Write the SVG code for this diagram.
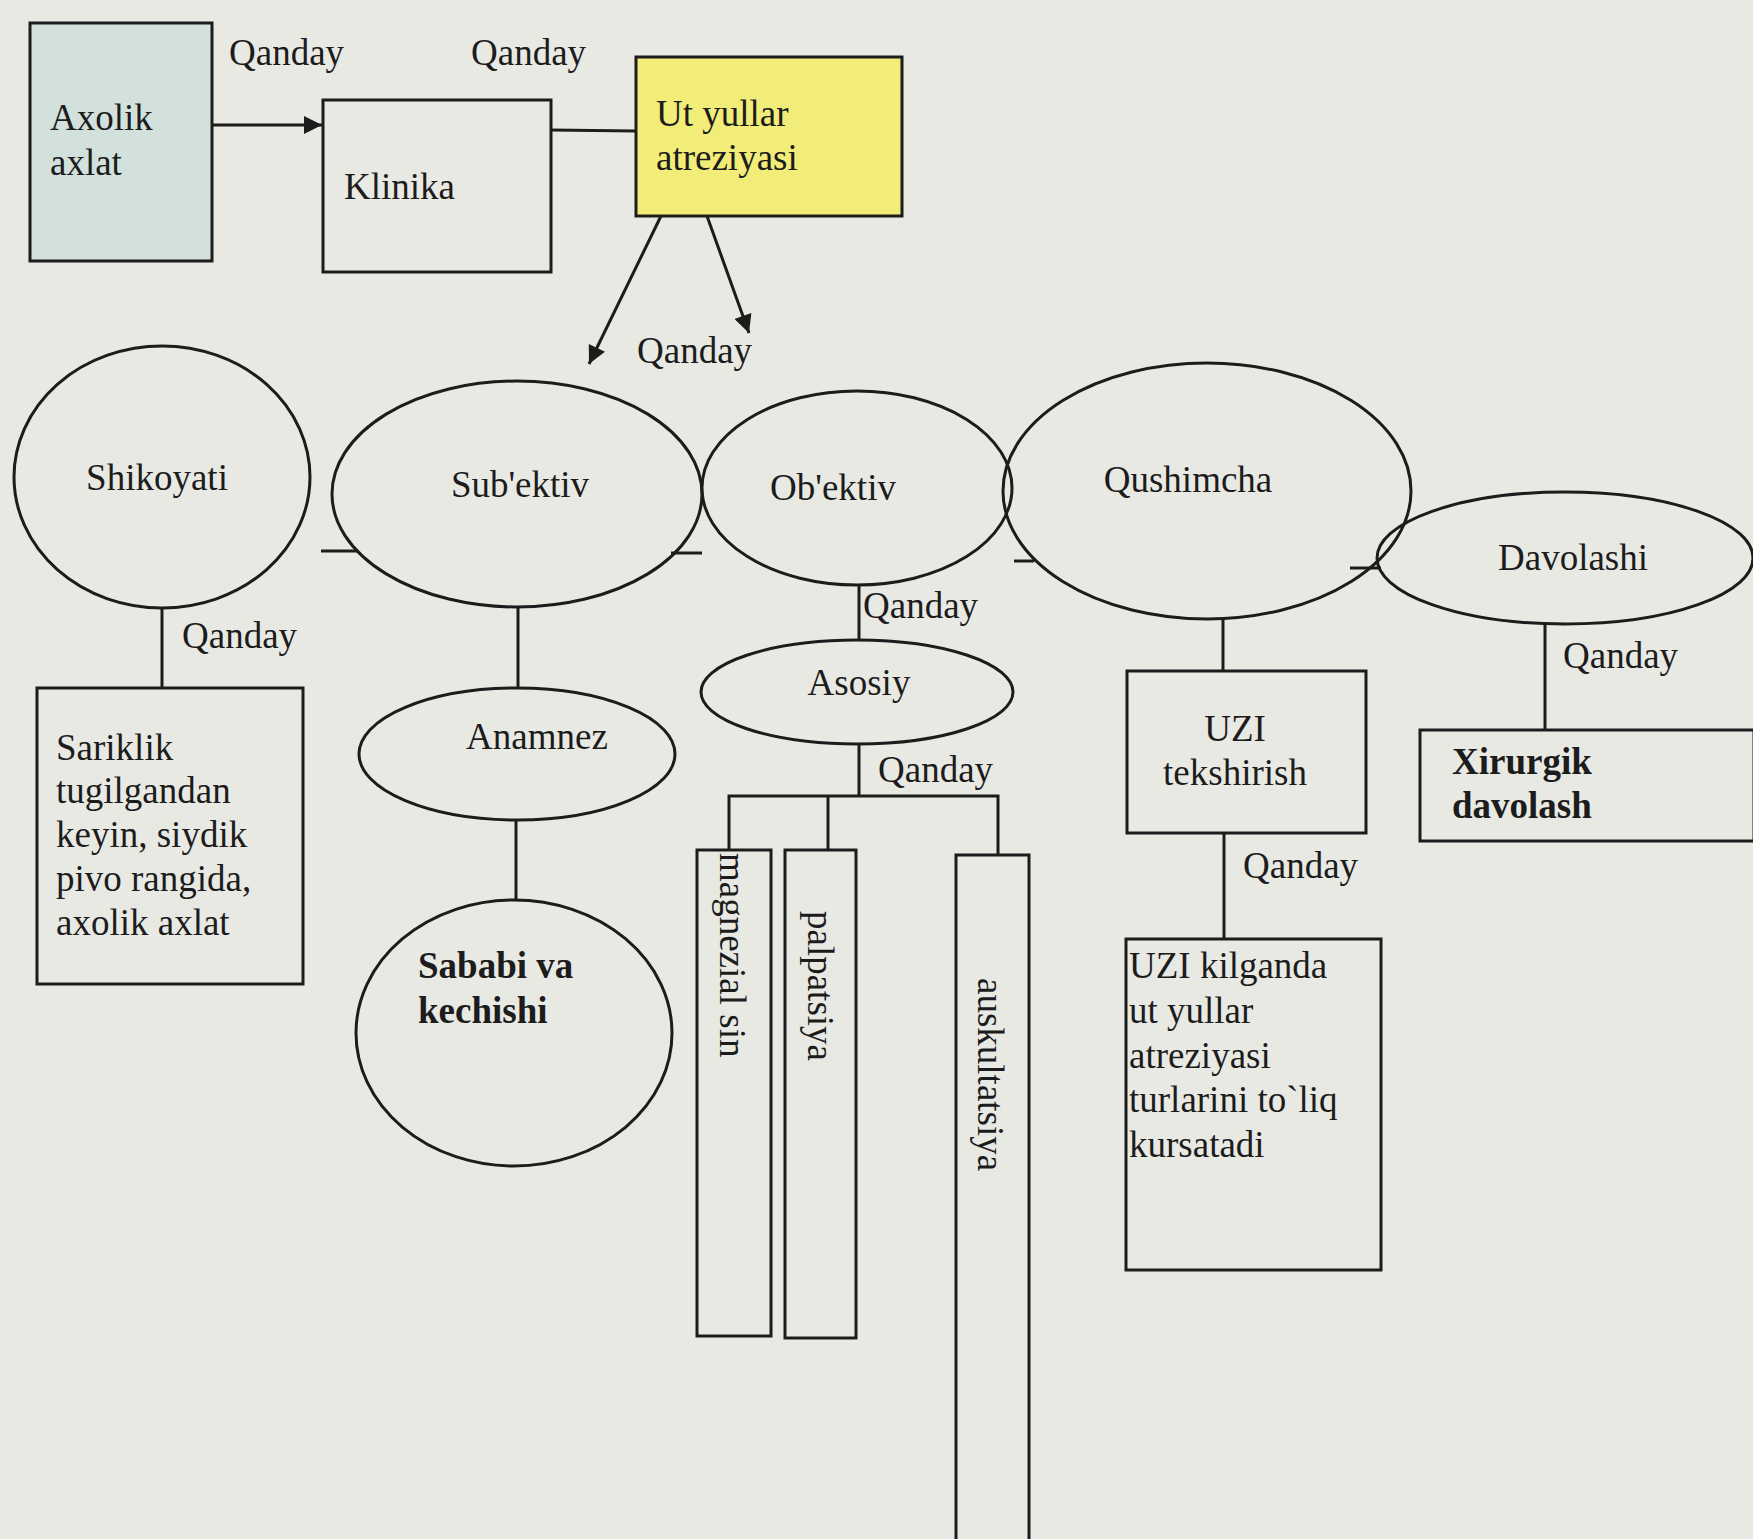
<svg xmlns="http://www.w3.org/2000/svg" width="1753" height="1539" viewBox="0 0 1753 1539">
<style>
.bg{fill:#e9e9e4}
.box{fill:none;stroke:#1c1c1c;stroke-width:3}
.ell{fill:none;stroke:#1c1c1c;stroke-width:3}
.ln{fill:none;stroke:#1c1c1c;stroke-width:3}
text{font-family:"Liberation Serif","Times New Roman",serif;font-size:37px;fill:#1c1c1c}
.b{font-weight:bold}
.c{text-anchor:middle}
</style>
<defs>
<marker id="ah" viewBox="0 0 10 10" refX="10" refY="5" markerWidth="7" markerHeight="7" markerUnits="userSpaceOnUse" orient="auto">
<path d="M0,0 L10,5 L0,10 z" fill="#1c1c1c"/>
</marker>
<marker id="ah2" viewBox="0 0 10 10" refX="10" refY="5" markerWidth="22" markerHeight="18" markerUnits="userSpaceOnUse" orient="auto">
<path d="M0,0 L10,5 L0,10 z" fill="#1c1c1c"/>
</marker>
</defs>
<rect class="bg" x="0" y="0" width="1753" height="1539"/>

<g id="connectors">
<line class="ln" x1="212" y1="125" x2="322" y2="125" marker-end="url(#ah2)"/>
<line class="ln" x1="551" y1="130" x2="636" y2="131"/>
<line class="ln" x1="661" y1="216" x2="589" y2="364" marker-end="url(#ah2)"/>
<line class="ln" x1="707" y1="216" x2="749" y2="333" marker-end="url(#ah2)"/>
<line class="ln" x1="162" y1="607" x2="162" y2="688"/>
<line class="ln" x1="518" y1="607" x2="518" y2="688"/>
<line class="ln" x1="516" y1="820" x2="516" y2="901"/>
<line class="ln" x1="859" y1="585" x2="859" y2="640"/>
<line class="ln" x1="859" y1="743" x2="859" y2="796"/>
<polyline class="ln" points="729,850 729,796 998,796 998,855"/>
<line class="ln" x1="828" y1="796" x2="828" y2="850"/>
<line class="ln" x1="1223" y1="618" x2="1223" y2="671"/>
<line class="ln" x1="1224" y1="833" x2="1224" y2="939"/>
<line class="ln" x1="1545" y1="624" x2="1545" y2="730"/>
<line class="ln" x1="321" y1="551" x2="358" y2="551"/>
<line class="ln" x1="671" y1="553" x2="702" y2="553"/>
<line class="ln" x1="1014" y1="561" x2="1034" y2="561"/>
<line class="ln" x1="1350" y1="568" x2="1381" y2="568"/>
<text x="229" y="65">Qanday</text>
<text x="471" y="65">Qanday</text>
<text x="637" y="363">Qanday</text>
<text x="182" y="648">Qanday</text>
<text x="863" y="618">Qanday</text>
<text x="878" y="782">Qanday</text>
<text x="1243" y="878">Qanday</text>
<text x="1563" y="668">Qanday</text>
</g>

<g id="axolik">
<rect x="30" y="23" width="182" height="238" fill="#d3e1dd" stroke="#1c1c1c" stroke-width="3"/>
<text x="50" y="130">Axolik</text>
<text x="50" y="175">axlat</text>
</g>

<g id="klinika">
<rect class="box" x="323" y="100" width="228" height="172"/>
<text x="344" y="199">Klinika</text>
</g>

<g id="ut-yullar">
<rect x="636" y="57" width="266" height="159" fill="#f2ec78" stroke="#1c1c1c" stroke-width="3"/>
<text x="656" y="126">Ut yullar</text>
<text x="656" y="170">atreziyasi</text>
</g>

<g id="shikoyati">
<ellipse class="ell" cx="162" cy="477" rx="148" ry="131"/>
<text class="c" x="157" y="490">Shikoyati</text>
</g>

<g id="subektiv">
<ellipse class="ell" cx="517" cy="494" rx="185" ry="113"/>
<text class="c" x="520" y="497">Sub'ektiv</text>
</g>

<g id="obektiv">
<ellipse class="ell" cx="857" cy="488" rx="155" ry="97"/>
<text class="c" x="833" y="500">Ob'ektiv</text>
</g>

<g id="qushimcha">
<ellipse class="ell" cx="1207" cy="491" rx="204" ry="128"/>
<text class="c" x="1188" y="492">Qushimcha</text>
</g>

<g id="davolashi">
<ellipse class="ell" cx="1565" cy="558" rx="188" ry="66"/>
<text class="c" x="1573" y="570">Davolashi</text>
</g>

<g id="sariklik">
<rect class="box" x="37" y="688" width="266" height="296"/>
<text x="56" y="760">Sariklik</text>
<text x="56" y="803">tugilgandan</text>
<text x="56" y="847">keyin, siydik</text>
<text x="56" y="891">pivo rangida,</text>
<text x="56" y="935">axolik axlat</text>
</g>

<g id="anamnez">
<ellipse class="ell" cx="517" cy="754" rx="158" ry="66"/>
<text class="c" x="537" y="749">Anamnez</text>
</g>

<g id="sababi">
<ellipse class="ell" cx="514" cy="1033" rx="158" ry="133"/>
<text class="b" x="418" y="978">Sababi va</text>
<text class="b" x="418" y="1023">kechishi</text>
</g>

<g id="asosiy">
<ellipse class="ell" cx="857" cy="692" rx="156" ry="52"/>
<text class="c" x="859" y="695">Asosiy</text>
</g>

<g id="magnezial">
<rect class="box" x="697" y="850" width="74" height="486"/>
<text transform="translate(720,853) rotate(90)">magnezial sin</text>
</g>

<g id="palpatsiya">
<rect class="box" x="785" y="850" width="71" height="488"/>
<text transform="translate(808,911) rotate(90)">palpatsiya</text>
</g>

<g id="auskultatsiya">
<rect class="box" x="956" y="855" width="73" height="700"/>
<text transform="translate(978,978) rotate(90)">auskultatsiya</text>
</g>

<g id="uzi">
<rect class="box" x="1127" y="671" width="239" height="162"/>
<text class="c" x="1235" y="741">UZI</text>
<text class="c" x="1235" y="785">tekshirish</text>
</g>

<g id="uzi-kilganda">
<rect class="box" x="1126" y="939" width="255" height="331"/>
<text x="1129" y="978">UZI kilganda</text>
<text x="1129" y="1023">ut yullar</text>
<text x="1129" y="1068">atreziyasi</text>
<text x="1129" y="1112">turlarini to`liq</text>
<text x="1129" y="1157">kursatadi</text>
</g>

<g id="xirurgik">
<rect class="box" x="1420" y="730" width="334" height="111"/>
<text class="b" x="1452" y="774">Xirurgik</text>
<text class="b" x="1452" y="818">davolash</text>
</g>
</svg>
